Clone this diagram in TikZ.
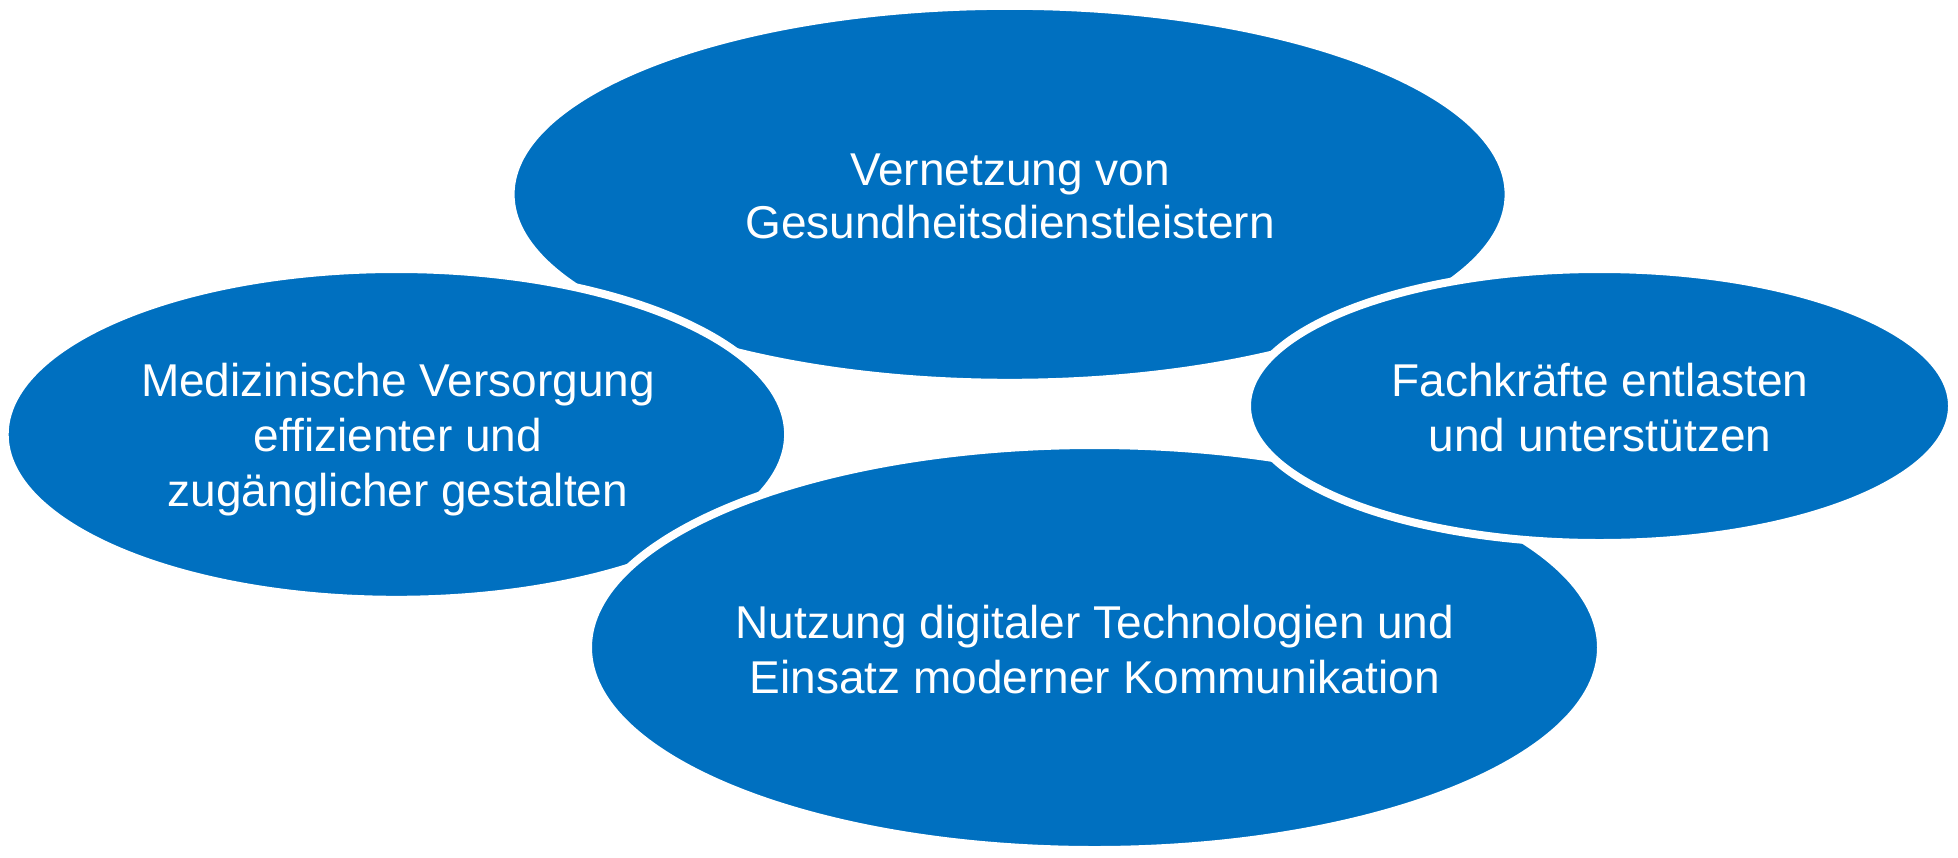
\documentclass[tikz,border=0pt]{standalone}
\usepackage{fontspec}
\setmainfont{Liberation Sans}
\usetikzlibrary{shapes.geometric}
\definecolor{msblue}{RGB}{0,112,192}
\begin{document}
\begin{tikzpicture}[x=1pt,y=-1pt,
  bubble/.style={ellipse, fill=msblue, draw=white, line width=8pt, inner sep=0pt},
  txt/.style={text=white, font=\fontsize{46}{53}\selectfont, anchor=base, inner sep=0pt}]
\useasboundingbox (0,0) rectangle (1958,857);
\node[bubble, minimum width=998pt, minimum height=377pt] (top) at (1009.6,194.3) {};
\node[bubble, minimum width=783.4pt, minimum height=330.8pt] (left) at (396.4,434.4) {};
\node[bubble, minimum width=1013pt, minimum height=405pt] (bottom) at (1094.5,647.5) {};
\node[bubble, minimum width=705pt, minimum height=274pt] (right) at (1599.5,406) {};
% texts
\node[txt] (top1) at (1010,185) {Vernetzung von};
\node[txt] (top2) at (1010,238.3) {Gesundheitsdienstleistern};
\node[txt] (left1) at (398,396.7) {Medizinische Versorgung};
\node[txt] (left2) at (398,451.7) {effizienter und};
\node[txt] (left3) at (398,506.7) {zugänglicher gestalten};
\node[txt] (right1) at (1600,396.7) {Fachkräfte entlasten};
\node[txt] (right2) at (1600,451.7) {und unterstützen};
\node[txt] (bot1) at (1095,638.3) {Nutzung digitaler Technologien und};
\node[txt] (bot2) at (1095,693.3) {Einsatz moderner Kommunikation};
\end{tikzpicture}
\end{document}
